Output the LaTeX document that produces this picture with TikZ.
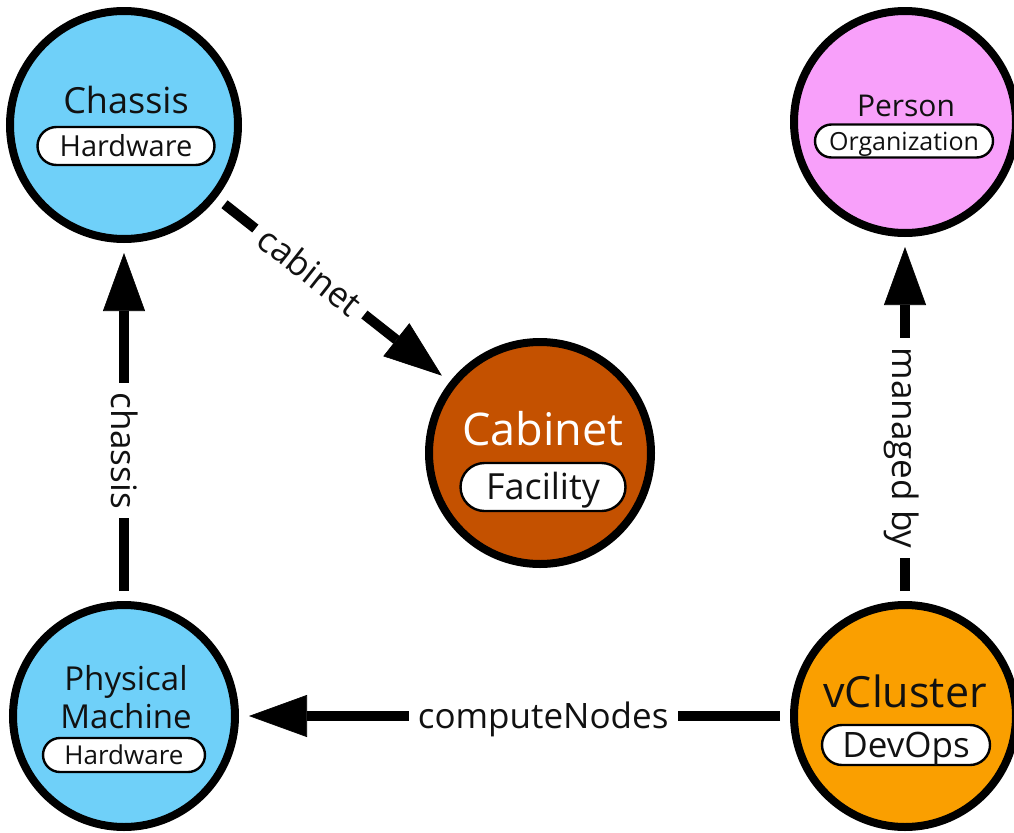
\documentclass[tikz,border=0pt]{standalone}
\usepackage{fontspec}
\setmainfont{Open Sans}
\usetikzlibrary{arrows.meta}

\definecolor{hwblue}{HTML}{6FD0F9}
\definecolor{orgpink}{HTML}{F8A0FA}
\definecolor{facbrown}{HTML}{C45100}
\definecolor{devorange}{HTML}{FA9F00}
\definecolor{ink}{HTML}{111111}

\newcommand{\fsz}[1]{\fontsize{#1}{#1}\selectfont}

\tikzset{
  entity/.style={circle, draw=black, line width=6pt, inner sep=0pt,
                 minimum size=#1},
  entity/.default=166.5pt,
  title/.style={anchor=base, inner sep=0pt, text=ink},
  % kind badge: width, height, corner radius, cap height of its text
  pill/.style n args={4}{rectangle, draw=black, line width=1.8pt, fill=white,
                 text=ink, minimum width=#1, minimum height=#2,
                 rounded corners=#3, inner sep=0pt,
                 text height=#4, text depth=0pt},
  rel/.style={line width=7.5pt, draw=black,
              -{Triangle[length=43.5pt, width=31.5pt, line width=0.5pt]},
              shorten <=7.5pt, shorten >=7.5pt},
  elabel/.style={fill=white, text=ink, inner xsep=7pt, inner ysep=4pt,
                 text height=18.9pt, text depth=0pt, font=\fsz{26.25pt}}
}

\begin{document}
\begin{tikzpicture}[x=0.75pt, y=-0.75pt]
  \useasboundingbox (0,0) rectangle (1014,832);

  % entities
  \node[entity=171pt, fill=hwblue] (chassis) at (124,125) {};
  \node[entity, fill=orgpink] (person) at (905,122) {};
  \node[entity, fill=facbrown] (cabinet) at (540,453) {};
  \node[entity, fill=hwblue] (pm) at (124,716) {};
  \node[entity, fill=devorange] (vcluster) at (905,716) {};

  % captions and kinds
  \node[title, font=\fsz{27pt}] (chassis-t) at (126,113) {Chassis};
  \node[pill={132.75pt}{28.5pt}{14.25pt}{15.66pt}, font=\fsz{21.75pt}] (chassis-k) at (126,146) {Hardware};

  \node[title, font=\fsz{22.5pt}] (person-t) at (906,116) {Person};
  \node[pill={133.5pt}{24.75pt}{12.37pt}{13.5pt}, font=\fsz{18.75pt}] (person-k) at (904,141) {Organization};

  \node[title, font=\fsz{33.75pt}, text=white] (cabinet-t) at (543,445) {Cabinet};
  \node[pill={123.75pt}{36pt}{18pt}{19.44pt}, font=\fsz{27pt}] (cabinet-k) at (543,487) {Facility};

  \node[title, font=\fsz{24.75pt}] (pm-t1) at (126,690) {Physical};
  \node[title, font=\fsz{24.75pt}] (pm-t2) at (126,728) {Machine};
  \node[pill={121.5pt}{25.5pt}{12.75pt}{14.04pt}, font=\fsz{19.5pt}] (pm-k) at (124,755) {Hardware};

  \node[title, font=\fsz{32.25pt}] (vcluster-t) at (905,707) {vCluster};
  \node[pill={126pt}{30pt}{15pt}{18.9pt}, font=\fsz{26.25pt}] (vcluster-k) at (906,745) {DevOps};

  % relationships
  \draw[rel] (chassis) -- node[elabel, sloped, pos=0.40] (l-cab) {cabinet} (cabinet);
  \draw[rel] (pm) -- node[elabel, rotate=-90, pos=0.42] (l-cha) {chassis} (chassis);
  \draw[rel] (vcluster) -- node[elabel, rotate=-90, pos=0.42] (l-man) {managed by} (person);
  \draw[rel] (vcluster) -- node[elabel, pos=0.448] (l-cmp) {computeNodes} (pm);
\end{tikzpicture}
\end{document}
